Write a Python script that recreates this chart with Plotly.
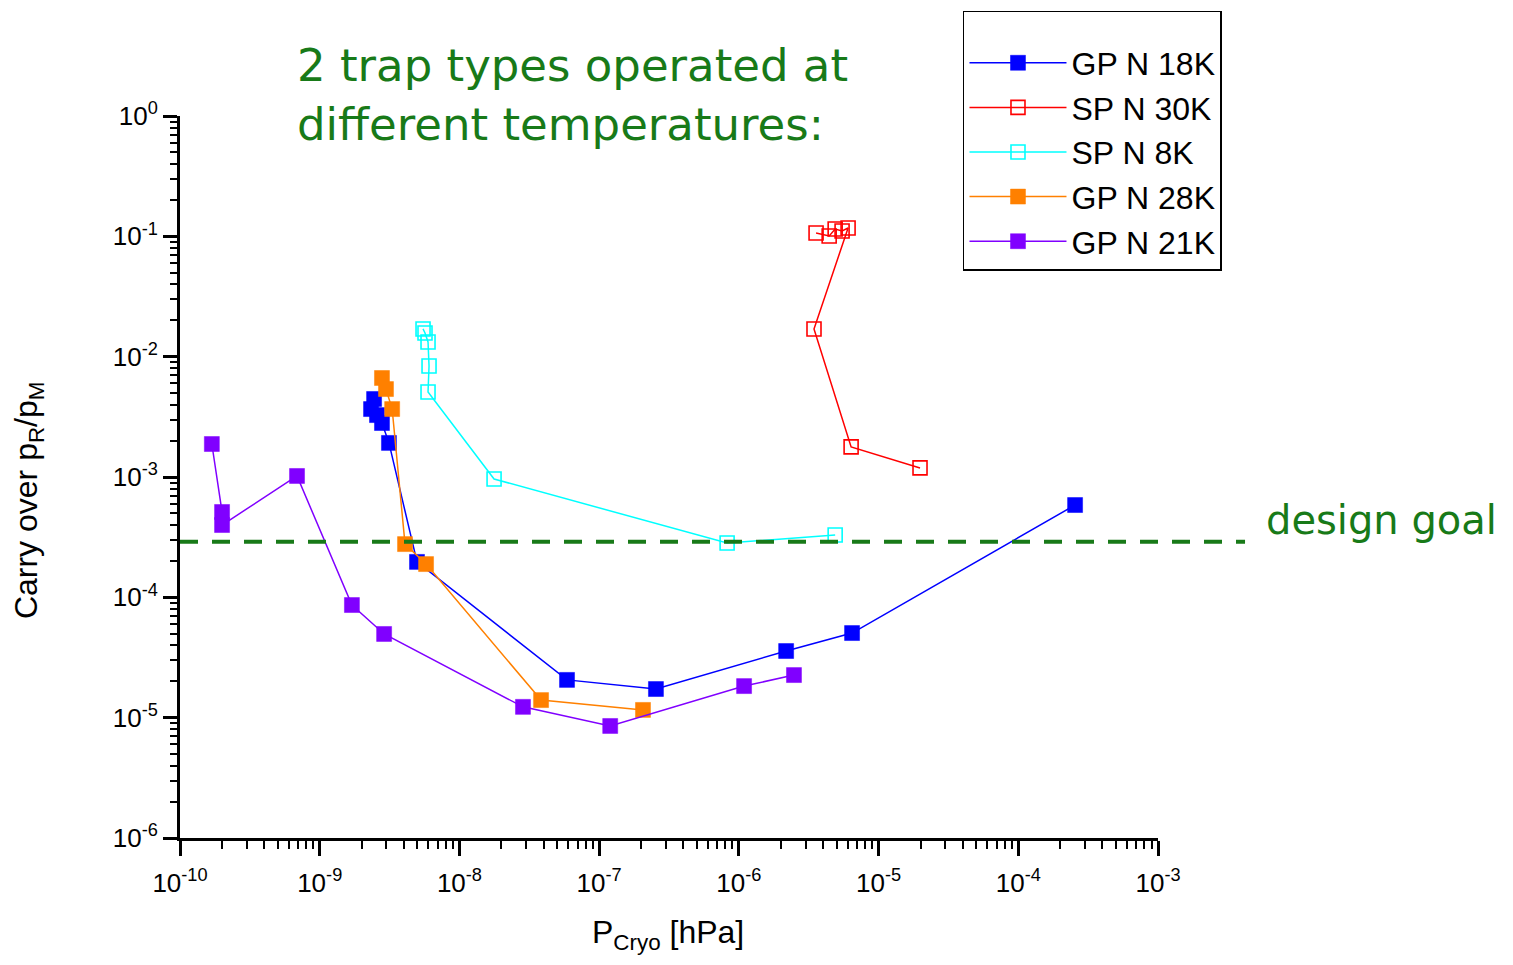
import numpy as np
import plotly.graph_objects as go

# ---- data ----
gp18_x = [2.45e-9, 2.33e-9, 2.57e-9, 2.79e-9, 3.13e-9, 4.97e-9, 5.89e-8, 2.55e-7, 2.18e-6, 6.46e-6, 2.55e-4]
gp18_y = [4.45e-3, 3.67e-3, 3.27e-3, 2.81e-3, 1.92e-3, 1.97e-4, 2.06e-5, 1.73e-5, 3.58e-5, 5.05e-5, 5.85e-4]

sp30_x = [3.57e-6, 4.43e-6, 4.89e-6, 5.48e-6, 6.05e-6, 3.45e-6, 6.36e-6, 1.98e-5]
sp30_y = [0.1066, 0.1006, 0.115, 0.1107, 0.1173, 0.0170, 1.78e-3, 1.19e-3]

sp8_x = [5.49e-9, 5.67e-9, 5.96e-9, 6.06e-9, 5.96e-9, 1.77e-8, 8.24e-7, 4.89e-6]
sp8_y = [0.0170, 0.01574, 0.01325, 8.36e-3, 5.08e-3, 9.62e-4, 2.83e-4, 3.30e-4]

gp28_x = [2.79e-9, 2.98e-9, 3.30e-9, 4.08e-9, 5.77e-9, 3.84e-8, 2.06e-7]
gp28_y = [6.65e-3, 5.38e-3, 3.67e-3, 2.77e-4, 1.89e-4, 1.40e-5, 1.16e-5]

gp21_x = [1.69e-10, 2.0e-10, 2.0e-10, 6.88e-10, 1.70e-9, 2.89e-9, 2.85e-8, 1.20e-7, 1.09e-6, 2.48e-6]
gp21_y = [1.88e-3, 5.12e-4, 3.99e-4, 1.02e-3, 8.63e-5, 4.96e-5, 1.23e-5, 8.53e-6, 1.83e-5, 2.26e-5]

design_goal = 2.9e-4

x_tick_exp = [-10, -9, -8, -7, -6, -5, -4, -3]
y_tick_exp = [-6, -5, -4, -3, -2, -1, 0]

series = [
    ("GP N 18K", gp18_x, gp18_y, "#0000FF", "square"),
    ("SP N 30K", sp30_x, sp30_y, "#FF0000", "square-open"),
    ("SP N 8K", sp8_x, sp8_y, "#00FFFF", "square-open"),
    ("GP N 28K", gp28_x, gp28_y, "#FF8000", "square"),
    ("GP N 21K", gp21_x, gp21_y, "#8000FF", "square"),
]

fig = go.Figure()
for name, xs, ys, col, sym in series:
    open_ = sym.endswith("open")
    fig.add_trace(go.Scatter(
        x=xs, y=ys, name=name, mode="lines+markers",
        line=dict(color=col, width=1.5),
        marker=dict(symbol=sym, size=14 if open_ else 15, color=col,
                    line=dict(color=col, width=1.6 if open_ else 0.5)),
    ))

GREEN = "#187a18"
fnt = "Liberation Sans, Arial, sans-serif"
comic = "DejaVu Sans, sans-serif"

y_lo, y_hi = -6, 0
fig.add_shape(type="line", xref="paper", yref="paper",
              x0=0, x1=1.089,
              y0=(np.log10(design_goal) - y_lo) / (y_hi - y_lo),
              y1=(np.log10(design_goal) - y_lo) / (y_hi - y_lo),
              line=dict(color=GREEN, width=4, dash="18px,14px"))

minor_vals = [k * 10.0 ** e for e in range(-10, 0) for k in range(2, 10)]

fig.update_layout(
    width=1513, height=965,
    margin=dict(l=172, r=363, t=108, b=135, autoexpand=False),
    paper_bgcolor="white", plot_bgcolor="white",
    font=dict(family=fnt, color="black"),
    showlegend=True,
    legend=dict(
        x=0.8006, y=1.146, xanchor="left", yanchor="top",
        bgcolor="white", bordercolor="black", borderwidth=1.5,
        font=dict(size=32, family=fnt),
        title=dict(text=" ", font=dict(size=18)),
        itemwidth=97, tracegroupgap=0,
    ),
    xaxis=dict(
        type="log", range=[-10, -3],
        tickmode="array",
        tickvals=[10.0 ** e for e in x_tick_exp],
        ticktext=["10<sup>%d</sup>" % e for e in x_tick_exp],
        ticks="outside", ticklen=15, tickwidth=2.5, tickcolor="black",
        ticklabelstandoff=5,
        showline=True, linecolor="black", linewidth=3,
        showgrid=False, zeroline=False, mirror=False,
        tickfont=dict(size=26, family=fnt),
        minor=dict(tickmode="array", tickvals=minor_vals, ticks="outside",
                   ticklen=8, tickwidth=2, tickcolor="black", showgrid=False),
    ),
    yaxis=dict(
        type="log", range=[y_lo, y_hi],
        tickmode="array",
        tickvals=[10.0 ** e for e in y_tick_exp],
        ticktext=["10<sup>%d</sup>" % e for e in y_tick_exp],
        ticks="outside", ticklen=14, tickwidth=2.5, tickcolor="black",
        showline=True, linecolor="black", linewidth=3,
        showgrid=False, zeroline=False, mirror=False,
        tickfont=dict(size=26, family=fnt),
        minor=dict(tickmode="array", tickvals=[v for v in minor_vals if v >= 1e-6],
                   ticks="outside", ticklen=7, tickwidth=2, tickcolor="black",
                   showgrid=False),
    ),
    annotations=[
        dict(text="Carry over p<sub>R</sub>/p<sub>M</sub>", xref="paper", yref="paper",
             x=-0.1554, y=0.468, textangle=-90, showarrow=False,
             xanchor="center", yanchor="middle", font=dict(size=32, family=fnt)),
        dict(text="P<sub>Cryo</sub> [hPa]", xref="paper", yref="paper",
             x=0.499, y=-0.134, showarrow=False, xanchor="center", yanchor="middle",
             font=dict(size=32, family=fnt)),
        dict(text="2 trap types operated at<br>different temperatures:", xref="paper",
             yref="paper", x=0.118, y=1.11, xanchor="left", yanchor="top",
             align="left", showarrow=False,
             font=dict(size=45, family=comic, color=GREEN)),
        dict(text="design goal", xref="paper", yref="paper", x=1.108, y=0.4404,
             xanchor="left", yanchor="middle", showarrow=False,
             font=dict(size=40, family=comic, color=GREEN)),
    ],
)

fig.write_html("out.html")
